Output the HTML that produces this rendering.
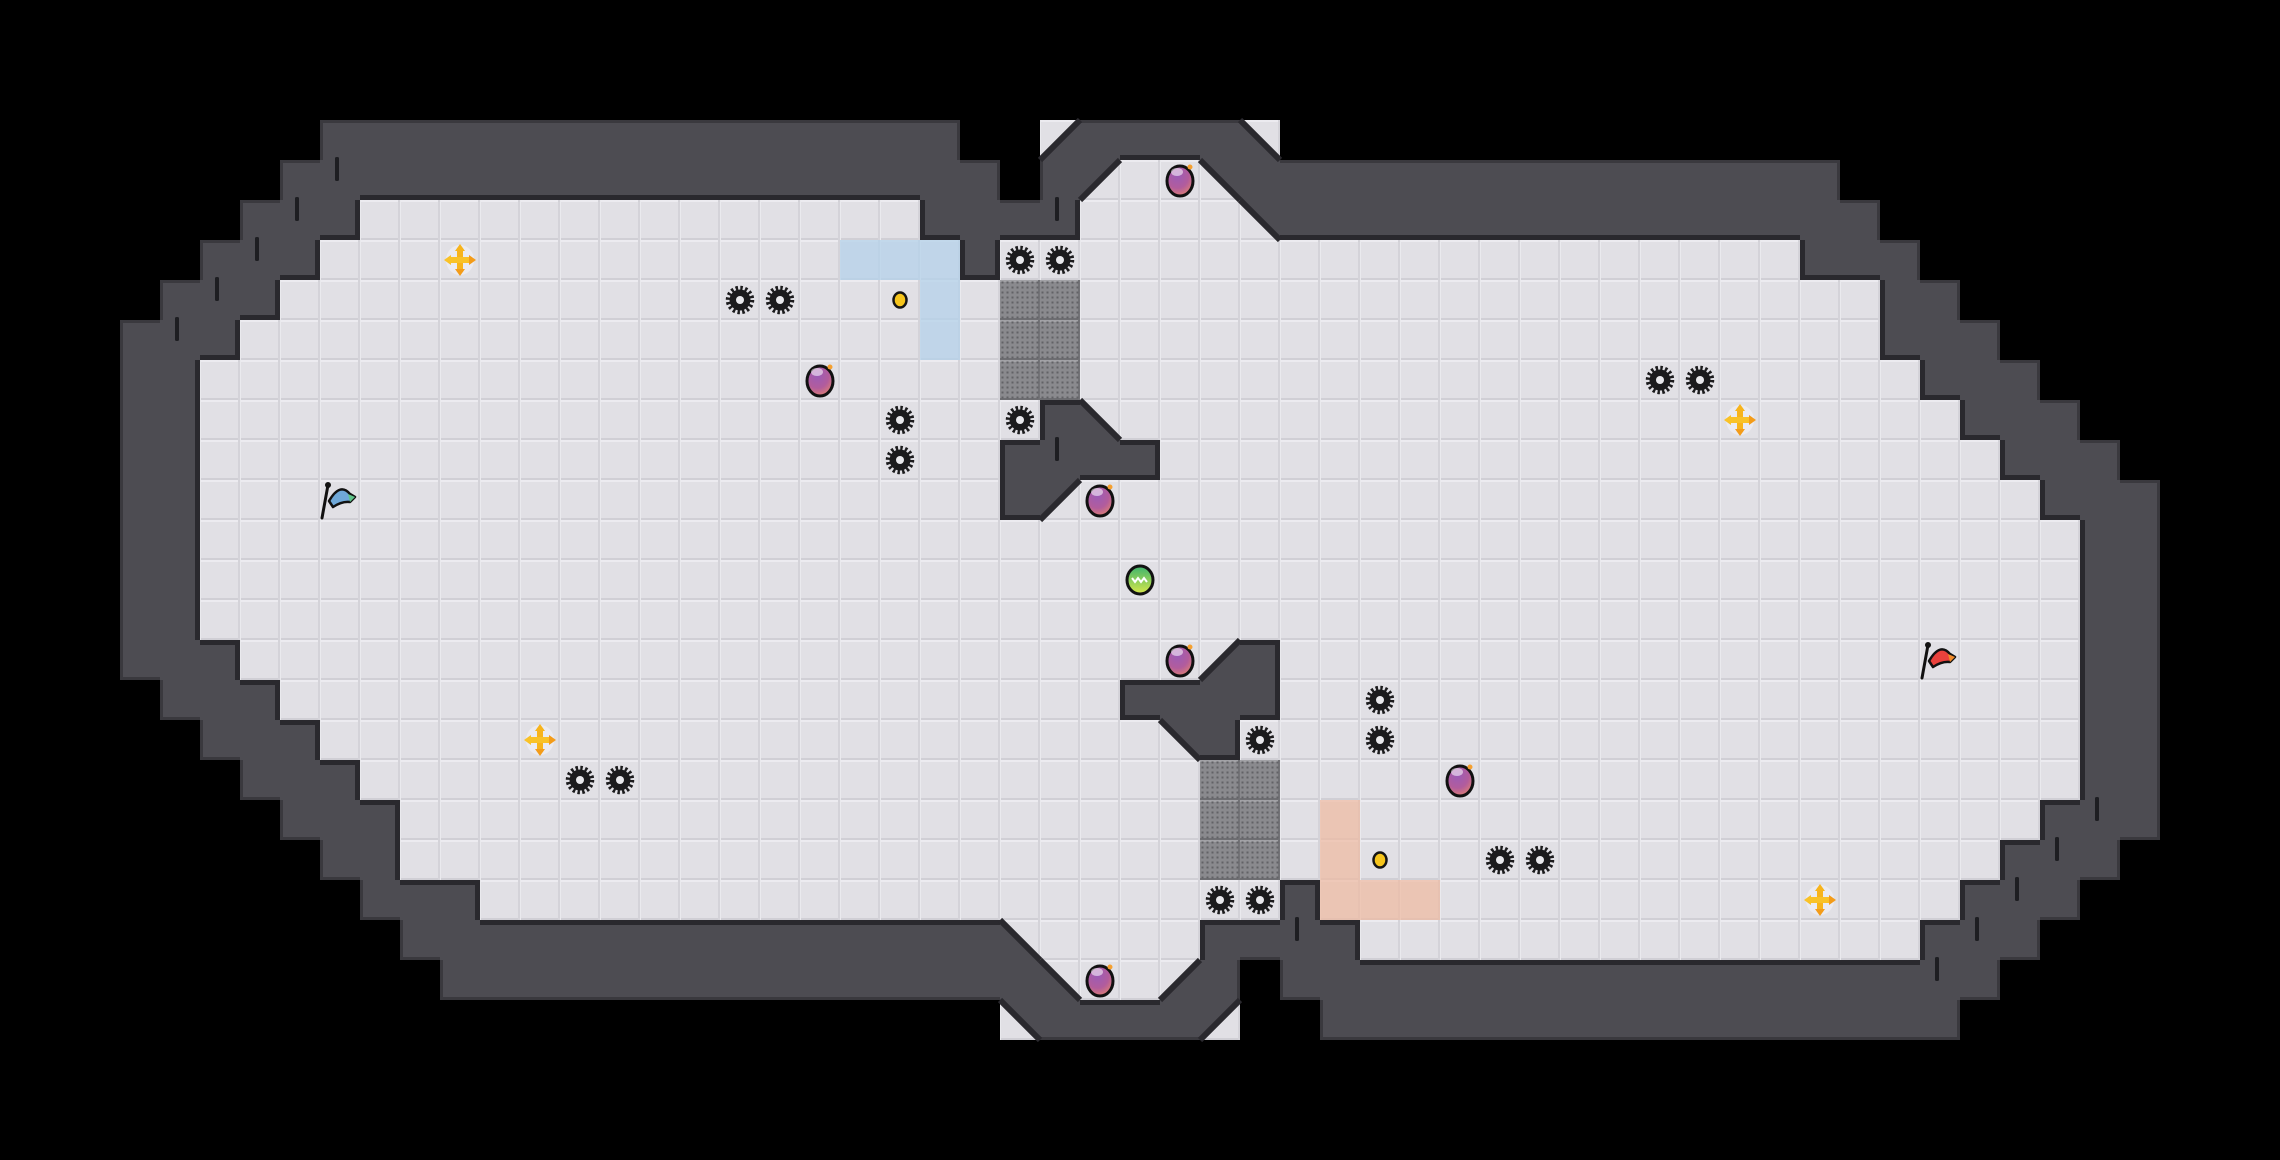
<!DOCTYPE html>
<html><head><meta charset="utf-8"><style>
html,body{margin:0;padding:0;background:#000;width:2280px;height:1160px;overflow:hidden}
svg{display:block}
</style></head><body>
<svg id="s" width="2280" height="1160" xmlns="http://www.w3.org/2000/svg">
<defs>
<pattern id="fl" width="40" height="40" patternUnits="userSpaceOnUse">
<rect width="40" height="40" fill="#e1e0e5"/>
<rect x="0" y="0" width="40" height="2" fill="#ecebf0"/>
<rect x="0" y="38" width="40" height="2" fill="#d0cfd5"/>
<rect x="38" y="0" width="2" height="40" fill="#d4d3d9"/>
<rect x="0" y="0" width="1" height="40" fill="#eaeaee"/>
</pattern>
<pattern id="gr" width="40" height="40" patternUnits="userSpaceOnUse">
<rect width="40" height="40" fill="#8a8a8e"/>
<rect x="0" y="0" width="40" height="2" fill="#a2a2a6"/>
<rect x="0" y="38" width="40" height="2" fill="#6e6e72"/>
<rect x="38" y="0" width="2" height="40" fill="#727276"/>
</pattern>
<pattern id="dots" width="5" height="5" patternUnits="userSpaceOnUse">
<rect x="1.5" y="1.5" width="2" height="2" fill="#626266"/>
</pattern>
<radialGradient id="pg" cx="0.4" cy="0.3" r="0.8">
<stop offset="0" stop-color="#9a5cb8"/><stop offset="0.55" stop-color="#b25c9c"/><stop offset="1" stop-color="#e8866a"/>
</radialGradient>
<linearGradient id="gg" x1="0" y1="0" x2="0" y2="1">
<stop offset="0" stop-color="#3db36e"/><stop offset="1" stop-color="#d8e84a"/>
</linearGradient>
</defs>
</svg>
<script>
const svg=document.getElementById('s');
const NS='http://www.w3.org/2000/svg';
function el(t,a,p){const e=document.createElementNS(NS,t);for(const k in a)e.setAttribute(k,a[k]);(p||svg).appendChild(e);return e;}
const R=29,C=57,T=40;
const G=[];for(let r=0;r<R;r++)G.push(new Array(C).fill(0));
function set(r,a,b,v){for(let c=a;c<=b;c++)G[r][c]=v;}
const S=[];
function sl(c,r,k){G[r][c]=3;S.push([c,r,k]);}
// row 3
set(3,8,23,1);set(3,27,30,1);sl(26,3,'lr');sl(31,3,'ll');
// row 4
set(4,7,24,1);set(4,26,26,1);sl(27,4,'ul');set(4,28,29,2);sl(30,4,'ur');set(4,31,45,1);
// row 5
set(5,6,8,1);set(5,9,22,2);set(5,23,26,1);set(5,27,30,2);sl(31,5,'ur');set(5,32,46,1);
// row 6
set(6,5,7,1);set(6,8,44,2);set(6,24,24,1);set(6,45,47,1);
set(7,4,6,1);set(7,7,46,2);set(7,47,48,1);
set(8,3,5,1);set(8,6,46,2);set(8,47,49,1);
set(9,3,4,1);set(9,5,47,2);set(9,48,50,1);
set(10,3,4,1);set(10,5,48,2);set(10,49,51,1);set(10,26,26,1);sl(27,10,'ll');
set(11,3,4,1);set(11,5,49,2);set(11,50,52,1);set(11,25,28,1);
set(12,3,4,1);set(12,5,50,2);set(12,51,53,1);set(12,25,25,1);sl(26,12,'ul');
for(let r=13;r<=15;r++){set(r,3,4,1);set(r,5,51,2);set(r,52,53,1);}
set(16,3,5,1);set(16,6,51,2);set(16,52,53,1);sl(30,16,'lr');set(16,31,31,1);
set(17,4,6,1);set(17,7,51,2);set(17,52,53,1);set(17,28,31,1);
set(18,5,7,1);set(18,8,51,2);set(18,52,53,1);sl(29,18,'ur');set(18,30,30,1);
set(19,6,8,1);set(19,9,51,2);set(19,52,53,1);
set(20,7,9,1);set(20,10,50,2);set(20,51,53,1);
set(21,8,9,1);set(21,10,49,2);set(21,50,52,1);
set(22,9,11,1);set(22,12,48,2);set(22,49,51,1);set(22,32,32,1);
set(23,10,24,1);sl(25,23,'ll');set(23,26,29,2);set(23,30,33,1);set(23,34,47,2);set(23,48,50,1);
set(24,11,25,1);sl(26,24,'ll');set(24,27,28,2);sl(29,24,'lr');set(24,30,30,1);set(24,32,49,1);
sl(25,25,'ur');set(25,26,29,1);sl(30,25,'ul');set(25,33,48,1);

const W='#4d4c52',E='#2a292e',O='#3a393e';
const gFl=el('g',{}),gOv=el('g',{}),gW=el('g',{}),gE=el('g',{}),gS=el('g',{}),gT=el('g',{}),gI=el('g',{});
for(let r=0;r<R;r++)for(let c=0;c<C;c++){
 const v=G[r][c],x=c*T,y=r*T;
 if(v===2||v===3)el('rect',{x,y,width:T,height:T,fill:'url(#fl)'},gFl);
 if(v===1){
  el('rect',{x,y,width:T,height:T,fill:W},gW);
  const nb=[[0,-1],[0,1],[-1,0],[1,0]];
  for(const [dc,dr] of nb){
   const rr=r+dr,cc=c+dc;const n=(rr>=0&&rr<R&&cc>=0&&cc<C)?G[rr][cc]:0;
   let col=null,w=5;
   if(n===2)col=E; else if(n===0){col=O;w=3;}
   if(!col)continue;
   if(dr===-1)el('rect',{x,y,width:T,height:w,fill:col},gE);
   if(dr===1)el('rect',{x,y:y+T-w,width:T,height:w,fill:col},gE);
   if(dc===-1)el('rect',{x,y,width:w,height:T,fill:col},gE);
   if(dc===1)el('rect',{x:x+T-w,y,width:w,height:T,fill:col},gE);
  }
 }
}
for(const [c,r,k] of S){
 const x=c*T,y=r*T,X=x+T,Y=y+T;let p,l;
 if(k==='ul'){p=`${x},${y} ${X},${y} ${x},${Y}`;l=[X,y,x,Y];}
 if(k==='ur'){p=`${x},${y} ${X},${y} ${X},${Y}`;l=[x,y,X,Y];}
 if(k==='ll'){p=`${x},${y} ${x},${Y} ${X},${Y}`;l=[x,y,X,Y];}
 if(k==='lr'){p=`${X},${y} ${X},${Y} ${x},${Y}`;l=[X,y,x,Y];}
 el('polygon',{points:p,fill:W},gS);
 el('line',{x1:l[0],y1:l[1],x2:l[2],y2:l[3],stroke:E,'stroke-width':6},gS);
}
// overlays
const cell=(c,r,f,op)=>el('rect',{x:c*T,y:r*T,width:T,height:T,fill:f,opacity:op||1},gOv);
[[21,6],[22,6],[23,6],[23,7],[23,8]].forEach(([c,r])=>cell(c,r,'#b4d2ea',0.75));
[[33,20],[33,21],[33,22],[34,22],[35,22]].forEach(([c,r])=>cell(c,r,'#f0b9a0',0.7));
[[25,7],[26,7],[25,8],[26,8],[25,9],[26,9],[30,19],[31,19],[30,20],[31,20],[30,21],[31,21]].forEach(([c,r])=>{cell(c,r,'url(#gr)');cell(c,r,'url(#dots)');});
// ticks
[[8,4],[7,5],[6,6],[5,7],[4,8],[26,5],[26,11],[32,23],[52,20],[51,21],[50,22],[49,23],[48,24]].forEach(([c,r])=>el('rect',{x:c*T+15,y:r*T-3,width:4,height:24,rx:1.5,fill:'#1e1e22'},gT));
// items
const cc=(c)=>c*T+20;
function gear(c,r){const x=cc(c),y=cc(r);const g=el('g',{},gI);
 el('circle',{cx:x,cy:y,r:10.5,fill:'#1b1b1d'},g);
 el('circle',{cx:x,cy:y,r:12,fill:'none',stroke:'#1b1b1d','stroke-width':4.5,'stroke-dasharray':'2.4 2.31'},g);
 el('circle',{cx:x,cy:y,r:4,fill:'#e8e8ec'},g);}
function potion(c,r){const x=cc(c),y=cc(r);const g=el('g',{},gI);
 el('ellipse',{cx:x,cy:y+1,rx:13,ry:15,fill:'url(#pg)',stroke:'#111','stroke-width':3},g);
 el('ellipse',{cx:x-3,cy:y-8,rx:6,ry:4,fill:'#fff',opacity:0.55},g);
 el('circle',{cx:x+10,cy:y-13,r:2.5,fill:'#f5a030'},g);}
function coin(c,r){const x=cc(c),y=cc(r);el('ellipse',{cx:x,cy:y,rx:6.5,ry:7.5,fill:'#f6c51c',stroke:'#151515','stroke-width':2.5},gI);}
function cross(c,r){const x=cc(c),y=cc(r);const g=el('g',{},gI);
 el('ellipse',{cx:x,cy:y,rx:14,ry:15,fill:'#ececf2',opacity:0.9},g);
 el('rect',{x:x-3,y:y-12,width:6,height:24,fill:'#f7b41c'},g);
 el('rect',{x:x-12,y:y-3,width:24,height:6,fill:'#f9c227'},g);
 el('polygon',{points:`${x},${y-16} ${x-5},${y-9} ${x+5},${y-9}`,fill:'#f7b41c'},g);
 el('polygon',{points:`${x},${y+16} ${x-5},${y+9} ${x+5},${y+9}`,fill:'#f39c1a'},g);
 el('polygon',{points:`${x-16},${y} ${x-9},${y-5} ${x-9},${y+5}`,fill:'#f9c227'},g);
 el('polygon',{points:`${x+16},${y} ${x+9},${y-5} ${x+9},${y+5}`,fill:'#f39c1a'},g);}
function flag(c,r,col,col2){const x=c*T,y=r*T;const g=el('g',{},gI);
 el('path',{d:`M${x+9} ${y+21} Q${x+20} ${y+2} ${x+30} ${y+14} L${x+35} ${y+17} L${x+30} ${y+22} Q${x+22} ${y+21} ${x+13} ${y+27} Z`,fill:col,stroke:'#111','stroke-width':2.5,'stroke-linejoin':'round'},g);
 el('path',{d:`M${x+28} ${y+14} L${x+35} ${y+17} L${x+30} ${y+22} Z`,fill:col2},g);
 el('line',{x1:x+2,y1:y+38,x2:x+8,y2:y+5,stroke:'#111','stroke-width':3,'stroke-linecap':'round'},g);
 el('circle',{cx:x+8,cy:y+5,r:3,fill:'#111'},g);}
[[18,7],[19,7],[25,6],[26,6],[22,10],[22,11],[25,10],[41,9],[42,9],[14,19],[15,19],[31,18],[34,17],[34,18],[37,21],[38,21],[30,22],[31,22]].forEach(([c,r])=>gear(c,r));
[[29,4],[20,9],[27,12],[29,16],[36,19],[27,24]].forEach(([c,r])=>potion(c,r));
coin(22,7);coin(34,21);
[[11,6],[43,10],[13,18],[45,22]].forEach(([c,r])=>cross(c,r));
(function(){const x=cc(28),y=cc(14);el('ellipse',{cx:x,cy:y,rx:13,ry:14,fill:'url(#gg)',stroke:'#111','stroke-width':3},gI);
 el('path',{d:`M${x-8} ${y-2} l3 4 l3 -4 l3 4 l3 -4 l3 4`,fill:'none',stroke:'#fff','stroke-width':2},gI);})();
flag(8,12,'#6fa8d8','#5fc48a');
flag(48,16,'#e8413c','#f08a2a');
</script>
</body></html>
